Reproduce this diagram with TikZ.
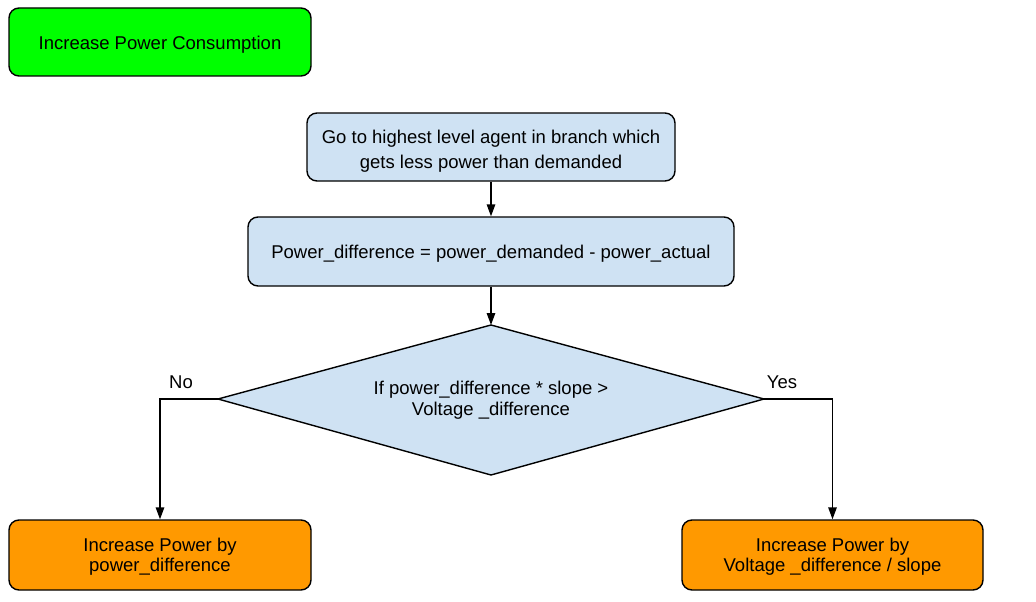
\documentclass[tikz,border=0pt]{standalone}
\usepackage{fontspec}
\setmainfont{Liberation Sans}
\usetikzlibrary{shapes.geometric,arrows.meta}
\definecolor{boxblue}{HTML}{CFE2F3}
\definecolor{boxgreen}{HTML}{00FF00}
\definecolor{boxorange}{HTML}{FF9900}
\begin{document}
\begin{tikzpicture}[x=1pt,y=-1pt,
  txt/.style={font=\fontsize{18.5}{#1}\selectfont,align=center,inner sep=0pt},
  txt/.default=22,
  rbox/.style={draw=black,line width=1.4pt,rounded corners=10pt,inner sep=0pt},
  conn/.style={draw=black,line width=1.4pt,-{Triangle[length=12pt,width=8.5pt]}}]
\useasboundingbox (0,0) rectangle (1036,602);
\node[rbox,fill=boxgreen,minimum width=302pt,minimum height=68pt,
  label={[txt,yshift=-3pt]center:Increase Power Consumption}] (start) at (160,42) {};
\node[rbox,fill=boxblue,minimum width=368pt,minimum height=68pt,
  label={[txt=24.5,yshift=-4pt]center:Go to highest level agent in branch which\\gets less power than demanded}] (b1) at (491,147) {};
\node[rbox,fill=boxblue,minimum width=486pt,minimum height=69pt,
  label={[txt,yshift=-2.5pt]center:Power\_difference = power\_demanded - power\_actual}] (b2) at (491,251.5) {};
\coordinate (dl) at (218,399);
\coordinate (dr) at (764,399);
\coordinate (dt) at (491,325);
\coordinate (db) at (491,475);
\draw[fill=boxblue,line width=1.4pt,line join=miter] (dl) -- (dt) -- (dr) -- (db) -- cycle;
\node[txt=20.5,yshift=-1pt] (dtext) at (491,399) {If power\_difference * slope >\\Voltage \_difference};
\node[rbox,fill=boxorange,minimum width=302pt,minimum height=70pt,
  label={[txt=20,yshift=-1.5pt]center:Increase Power by\\power\_difference}] (no) at (160,555) {};
\node[rbox,fill=boxorange,minimum width=301pt,minimum height=70pt,
  label={[txt=20,yshift=-1.5pt]center:Increase Power by\\Voltage \_difference / slope}] (yes) at (832.5,555) {};
\draw[conn] (b1.south) -- (b2.north);
\draw[conn] (b2.south) -- (dt);
\draw[conn] (dl) -| (no.north);
\draw[conn] (dr) -| (yes.north);
\node[txt] (nol) at (181,382) {No};
\node[txt] (yesl) at (782,382) {Yes};
\end{tikzpicture}
\end{document}
